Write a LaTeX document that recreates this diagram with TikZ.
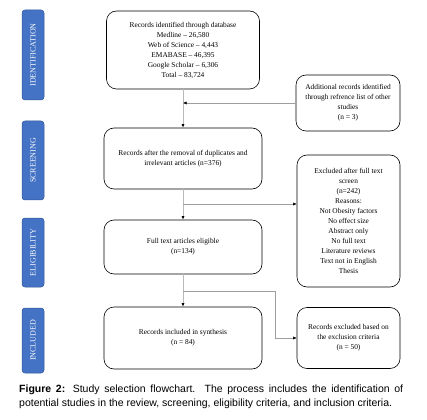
\documentclass[tikz,border=0pt]{standalone}
\usepackage{fontspec}
\setmainfont{Liberation Serif}
\newfontfamily\capfont{Liberation Sans}
\usetikzlibrary{arrows.meta,calc}
\definecolor{sideblue}{RGB}{68,114,196}
\definecolor{sideedge}{RGB}{52,88,156}
\begin{document}
\begin{tikzpicture}[x=1pt,y=-1pt,
  box/.style={draw=black,line width=0.6pt,rounded corners=10pt,align=center,inner sep=1pt,
    font=\fontsize{7.4}{10}\selectfont},
  side/.style={draw=sideedge,fill=sideblue,line width=0.5pt,rounded corners=3pt,
    minimum width=22pt,inner sep=0pt,text=white,font=\fontsize{8}{9}\selectfont},
  vline/.style={draw=gray!55,line width=1pt,-{Latex[black,length=3.5pt,width=3pt]}},
  hline/.style={draw=gray!75,line width=0.5pt,-{Latex[black,length=3.5pt,width=3pt]}}]
\path[fill=white] (0,0) rectangle (427,419);
\useasboundingbox (0,0) rectangle (427,419);
% side labels
\node[side,minimum height=90pt] (sid) at (33,55) {\rotatebox{90}{IDENTIFICATION}};
\node[side,minimum height=79pt] (sscr) at (33,160.5) {\rotatebox{90}{SCREENING}};
\node[side,minimum height=69pt] (selig) at (33,252.5) {\rotatebox{90}{ELIGIBILITY}};
\node[side,minimum height=65pt] (sinc) at (33,340.5) {\rotatebox{90}{INCLUDED}};
% main boxes
\node[box,minimum width=153pt,minimum height=78pt] (b1) at (183,50)
  {Records identified through database\\Medline -- 26,580\\Web of Science -- 4,443\\EMABASE -- 46,395\\Google Scholar -- 6,306\\Total -- 83,724};
\node[box,minimum width=104pt,minimum height=56pt] (add) at (348,103)
  {Additional records identified\\through refrence list of other\\studies\\(n = 3)};
\node[box,minimum width=158pt,minimum height=61pt] (b2) at (183,158.5)
  {Records after the removal of duplicates and\\irrelevant articles (n=376)};
\node[box,minimum width=103pt,minimum height=132pt] (ex1) at (348.5,221)
  {Excluded after full text\\screen\\(n=242)\\Reasons:\\Not Obesity factors\\No effect size\\Abstract only\\No full text\\Literature reviews\\Text not in English\\Thesis};
\node[box,minimum width=158pt,minimum height=54pt] (b3) at (183,247)
  {Full text articles eligible\\(n=134)};
\node[box,minimum width=158pt,minimum height=62pt] (b4) at (183,338)
  {Records included in synthesis\\(n = 84)};
\node[box,minimum width=103pt,minimum height=61pt] (ex2) at (348.5,338)
  {Records excluded based on\\the exclusion criteria\\(n = 50)};
% connectors
\draw[vline] (b1.south) -- (b2.north);
\draw[hline] (add.west) -- (add.west -| b1.south);
\coordinate (j1) at (183,204);
\draw[vline] (b2.south) -- (b3.north);
\draw[hline] (j1) -- (j1 -| ex1.west);
\coordinate (j2) at (183,291);
\coordinate (k2) at (275,291);
\draw[vline] (b3.south) -- (b4.north);
\draw[hline] (j2) -- (k2) |- (ex2.west);
% caption
\node[anchor=north west,inner sep=0pt,text width=384pt,align=justify,
  font=\capfont\fontsize{10.5}{14}\selectfont] (cap) at (19,384.5)
  {\textbf{Figure 2:} Study selection flowchart. The process includes the identification of\linebreak potential studies in the review, screening, eligibility criteria, and inclusion criteria.};
\end{tikzpicture}
\end{document}
